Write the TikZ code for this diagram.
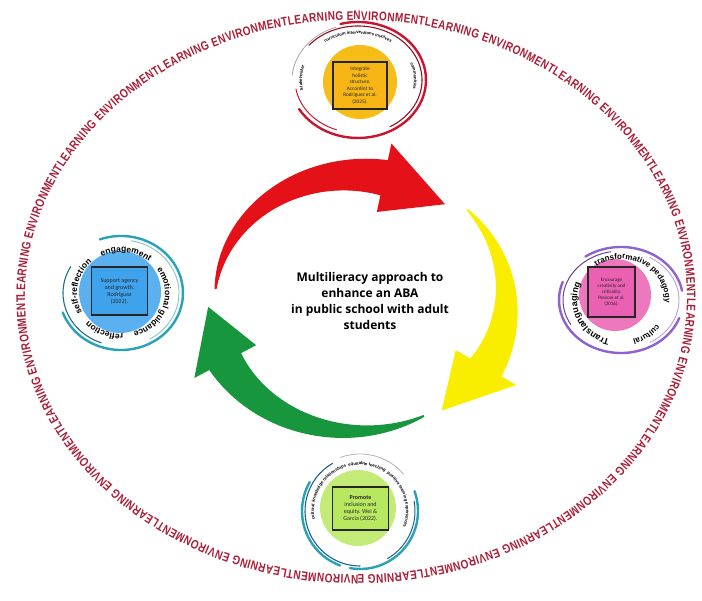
\documentclass[tikz,border=0pt]{standalone}
\usepackage{fontspec}
\setmainfont{Liberation Sans}
\newfontfamily\titlefont{Open Sans}
\newfontfamily\boxfont{Carlito}
\newfontfamily\ringfont[FakeStretch=0.8]{Liberation Sans}
\usetikzlibrary{decorations.text}

\definecolor{envred}{RGB}{170,30,55}
\definecolor{arrowred}{RGB}{228,18,24}
\definecolor{arrowyellow}{RGB}{250,238,0}
\definecolor{arrowgreen}{RGB}{24,150,62}
\definecolor{sunyellow}{RGB}{246,188,24}
\definecolor{skyblue}{RGB}{62,162,236}
\definecolor{pinkfill}{RGB}{234,96,178}
\definecolor{limefill}{RGB}{184,232,96}
\definecolor{ringred}{RGB}{200,22,48}
\definecolor{ringteal}{RGB}{40,162,182}
\definecolor{ringpurple}{RGB}{142,98,208}
\definecolor{ringblue}{RGB}{30,96,140}

\newcommand\envfont{\ringfont\bfseries\fontsize{12.5}{13}\selectfont}
\newcommand\tinyring{\bfseries\fontsize{4.3}{5}\selectfont}
\newcommand\midring{\bfseries\fontsize{8.5}{9}\selectfont}
\newcommand\purplering{\bfseries\fontsize{8}{9}\selectfont}
\newcommand\bigring{\bfseries\fontsize{9}{10}\selectfont}

% centre and half axes of the arrow cycle
\def\acx{355}
\def\acy{301}
\def\arx{140}
\def\ary{125}
\def\abw{18}
\def\ahw{35}
% #1 colour, #2 scale, #3 tail angle, #4 head base angle, #5 tip angle
\newcommand\cyclearrow[5]{%
  \fill[#1] plot[domain=#3:#4,samples=50]
      ({\acx+(\arx*#2+(1+(\abw-1)*(\x-(#3))/((#4)-(#3))))*cos(\x)},
       {\acy+(\ary*#2+(1+(\abw-1)*(\x-(#3))/((#4)-(#3))))*sin(\x)})
    -- ({\acx+(\arx*#2+\ahw)*cos(#4)},{\acy+(\ary*#2+\ahw)*sin(#4)})
    -- ({\acx+\arx*#2*cos(#5)},{\acy+\ary*#2*sin(#5)})
    -- ({\acx+(\arx*#2-\ahw)*cos(#4)},{\acy+(\ary*#2-\ahw)*sin(#4)})
    -- plot[domain=#4:#3,samples=50]
      ({\acx+(\arx*#2-(1+(\abw-1)*(\x-(#3))/((#4)-(#3))))*cos(\x)},
       {\acy+(\ary*#2-(1+(\abw-1)*(\x-(#3))/((#4)-(#3))))*sin(\x)})
    -- cycle;
}

\tikzset{
  topicbox/.style={draw=black!85,line width=1.6pt,align=center,inner sep=1pt,text=black!85},
  ringlabel/.style={decorate,decoration={text along path,text align=center,text={#1}}},
  ringstroke/.style={line cap=round}
}

\begin{document}
\begin{tikzpicture}[x=1pt,y=1pt]
\useasboundingbox (0,0) rectangle (702,601);

\path[decorate,decoration={text along path,text align={fit to path},text color=envred,
  text={|\envfont|LEARNING ENVIRONMENTLEARNING ENVIRONMENTLEARNING ENVIRONMENTLEARNING ENVIRONMENTLEARNING ENVIRONMENTLEARNING ENVIRONMENTLEARNING ENVIRONMENTLEARNING ENVIRONMENTLEARNING ENVIRONMENTLEARNING ENVIRONMENTLEARNING ENVIRONMENTLEARNING ENVIRONMENTLEARNING ENVIRONMENTLEARNING ENVIRONMENT}}]
  (25,303.5) arc[start angle=180,end angle=-180,x radius=331,y radius=277.5];

\cyclearrow{arrowred}{1}{175}{78}{50}
\cyclearrow{arrowyellow}{1.08}{42}{-30}{-55}
\cyclearrow{arrowgreen}{1.05}{-62}{-152}{-177}

\node[font=\titlefont\bfseries\fontsize{12}{16}\selectfont,align=center] (title) at (370,300)
  {Multilieracy approach to\\enhance an ABA\\in public school with adult\\students};

% top
\fill[sunyellow] (360,519) circle[radius=37];
\draw[ringstroke,ringred,line width=2.4pt] (358,521) ++(105:68 and 58) arc[start angle=105,end angle=-150,x radius=68,y radius=58];
\draw[ringstroke,ringred!75!black,line width=1.1pt] (358,521) ++(140:64 and 54) arc[start angle=140,end angle=-60,x radius=64,y radius=54];
\draw[ringstroke,ringred,line width=1pt] (358,521) ++(250:63 and 53) arc[start angle=250,end angle=190,x radius=63,y radius=53];
\draw[ringstroke,black!35,line width=0.8pt] (358,521) ++(175:66 and 56) arc[start angle=175,end angle=110,x radius=66,y radius=56];
\path[ringlabel={|\tinyring|Stakeholder}] (358,521) ++(205:56 and 46) arc[start angle=205,end angle=150,x radius=56,y radius=46];
\path[ringlabel={|\tinyring|curriculum interventions involves}] (358,521) ++(128:56 and 46) arc[start angle=128,end angle=52,x radius=56,y radius=46];
\path[ringlabel={|\tinyring|communities}] (358,521) ++(35:56 and 46) arc[start angle=35,end angle=-25,x radius=56,y radius=46];
\node[topicbox,fill=sunyellow!90!orange,minimum width=54,minimum height=47,font=\boxfont\fontsize{5.3}{6.5}\selectfont] (topbox) at (360,515.5)
  {Integrate\\holistic\\structure.\\Accordint to\\Rodriguez et al.\\(2025).};

% left
\fill[skyblue!85] (120,309) circle[radius=41];
\draw[ringstroke,ringteal,line width=2.4pt] (121,308) ++(110:62 and 57) arc[start angle=110,end angle=-160,x radius=62,y radius=57];
\draw[ringstroke,ringteal!70!black,line width=1.1pt] (121,308) ++(250:58 and 53) arc[start angle=250,end angle=150,x radius=58,y radius=53];
\draw[ringstroke,ringteal!60,line width=0.9pt] (121,308) ++(80:58 and 53) arc[start angle=80,end angle=-60,x radius=58,y radius=53];
\path[ringlabel={|\midring|engagement}] (121,308) ++(125:44 and 41) arc[start angle=125,end angle=41,x radius=44,y radius=41];
\path[ringlabel={|\midring|emotional guidance}] (121,308) ++(45:44 and 41) arc[start angle=45,end angle=-83,x radius=44,y radius=41];
\path[ringlabel={|\midring|reflection}] (121,308) ++(-78:44 and 41) arc[start angle=-78,end angle=-147,x radius=44,y radius=41];
\path[ringlabel={|\midring|self-reflection}] (121,308) ++(-140:44 and 41) arc[start angle=-140,end angle=-240,x radius=44,y radius=41];
\node[topicbox,fill=skyblue,minimum width=56,minimum height=48,font=\boxfont\fontsize{6}{7}\selectfont] (leftbox) at (119.5,310)
  {Support agency\\and growth.\\Rodriguez\\(2022).};

% right
\fill[pinkfill!85] (615,306) circle[radius=36];
\draw[ringstroke,ringpurple,line width=2.4pt] (621,301) ++(125:62 and 53) arc[start angle=125,end angle=10,x radius=62,y radius=53];
\draw[ringstroke,ringpurple,line width=2.4pt] (621,301) ++(-20:62 and 53) arc[start angle=-20,end angle=-200,x radius=62,y radius=53];
\draw[ringstroke,ringpurple!70!black,line width=1pt] (621,301) ++(210:58 and 49) arc[start angle=210,end angle=100,x radius=58,y radius=49];
\draw[ringstroke,ringpurple!60,line width=0.9pt] (621,301) ++(60:58 and 49) arc[start angle=60,end angle=-60,x radius=58,y radius=49];
\path[ringlabel={|\purplering|transformative pedagogy}] (621,301) ++(130:44 and 41) arc[start angle=130,end angle=-10,x radius=44,y radius=41];
\path[ringlabel={|\purplering|cultural}] (621,301) ++(-30:44 and 41) arc[start angle=-30,end angle=-80,x radius=44,y radius=41];
\path[ringlabel={|\bigring|Translanguaging}] (621,301) ++(-100:44 and 41) arc[start angle=-100,end angle=-209,x radius=44,y radius=41];
\node[topicbox,fill=pinkfill,minimum width=47,minimum height=50,font=\boxfont\fontsize{5}{6}\selectfont] (rightbox) at (611.5,309)
  {Encourage\\creativity and\\criticality.\\Pessoni et al.\\(2016).};

% bottom
\fill[limefill!85] (358,93) circle[radius=38];
\draw[ringstroke,ringteal,line width=2.4pt] (360,90) ++(150:58 and 58) arc[start angle=150,end angle=250,x radius=58,y radius=58];
\draw[ringstroke,ringteal,line width=2.4pt] (360,90) ++(-100:58 and 58) arc[start angle=-100,end angle=20,x radius=58,y radius=58];
\draw[ringstroke,ringblue,line width=1.1pt] (360,90) ++(120:55 and 55) arc[start angle=120,end angle=270,x radius=55,y radius=55];
\draw[ringstroke,ringblue,line width=1pt] (360,90) ++(-60:55 and 55) arc[start angle=-60,end angle=10,x radius=55,y radius=55];
\draw[ringstroke,black!30,line width=0.8pt] (360,90) ++(110:57 and 57) arc[start angle=110,end angle=40,x radius=57,y radius=57];
\path[ringlabel={|\tinyring|cultural knowledge relationships \ equitable teaching \ positive learning experiences}] (360,90) ++(215:46 and 46) arc[start angle=215,end angle=-45,x radius=46,y radius=46];
\node[topicbox,fill=limefill,minimum width=56,minimum height=43,font=\boxfont\fontsize{6}{7}\selectfont] (bottombox) at (360.5,92.5)
  {\textbf{Promote}\\inclusion and\\equity. Wei \&\\Garcia (2022).};
\end{tikzpicture}
\end{document}
